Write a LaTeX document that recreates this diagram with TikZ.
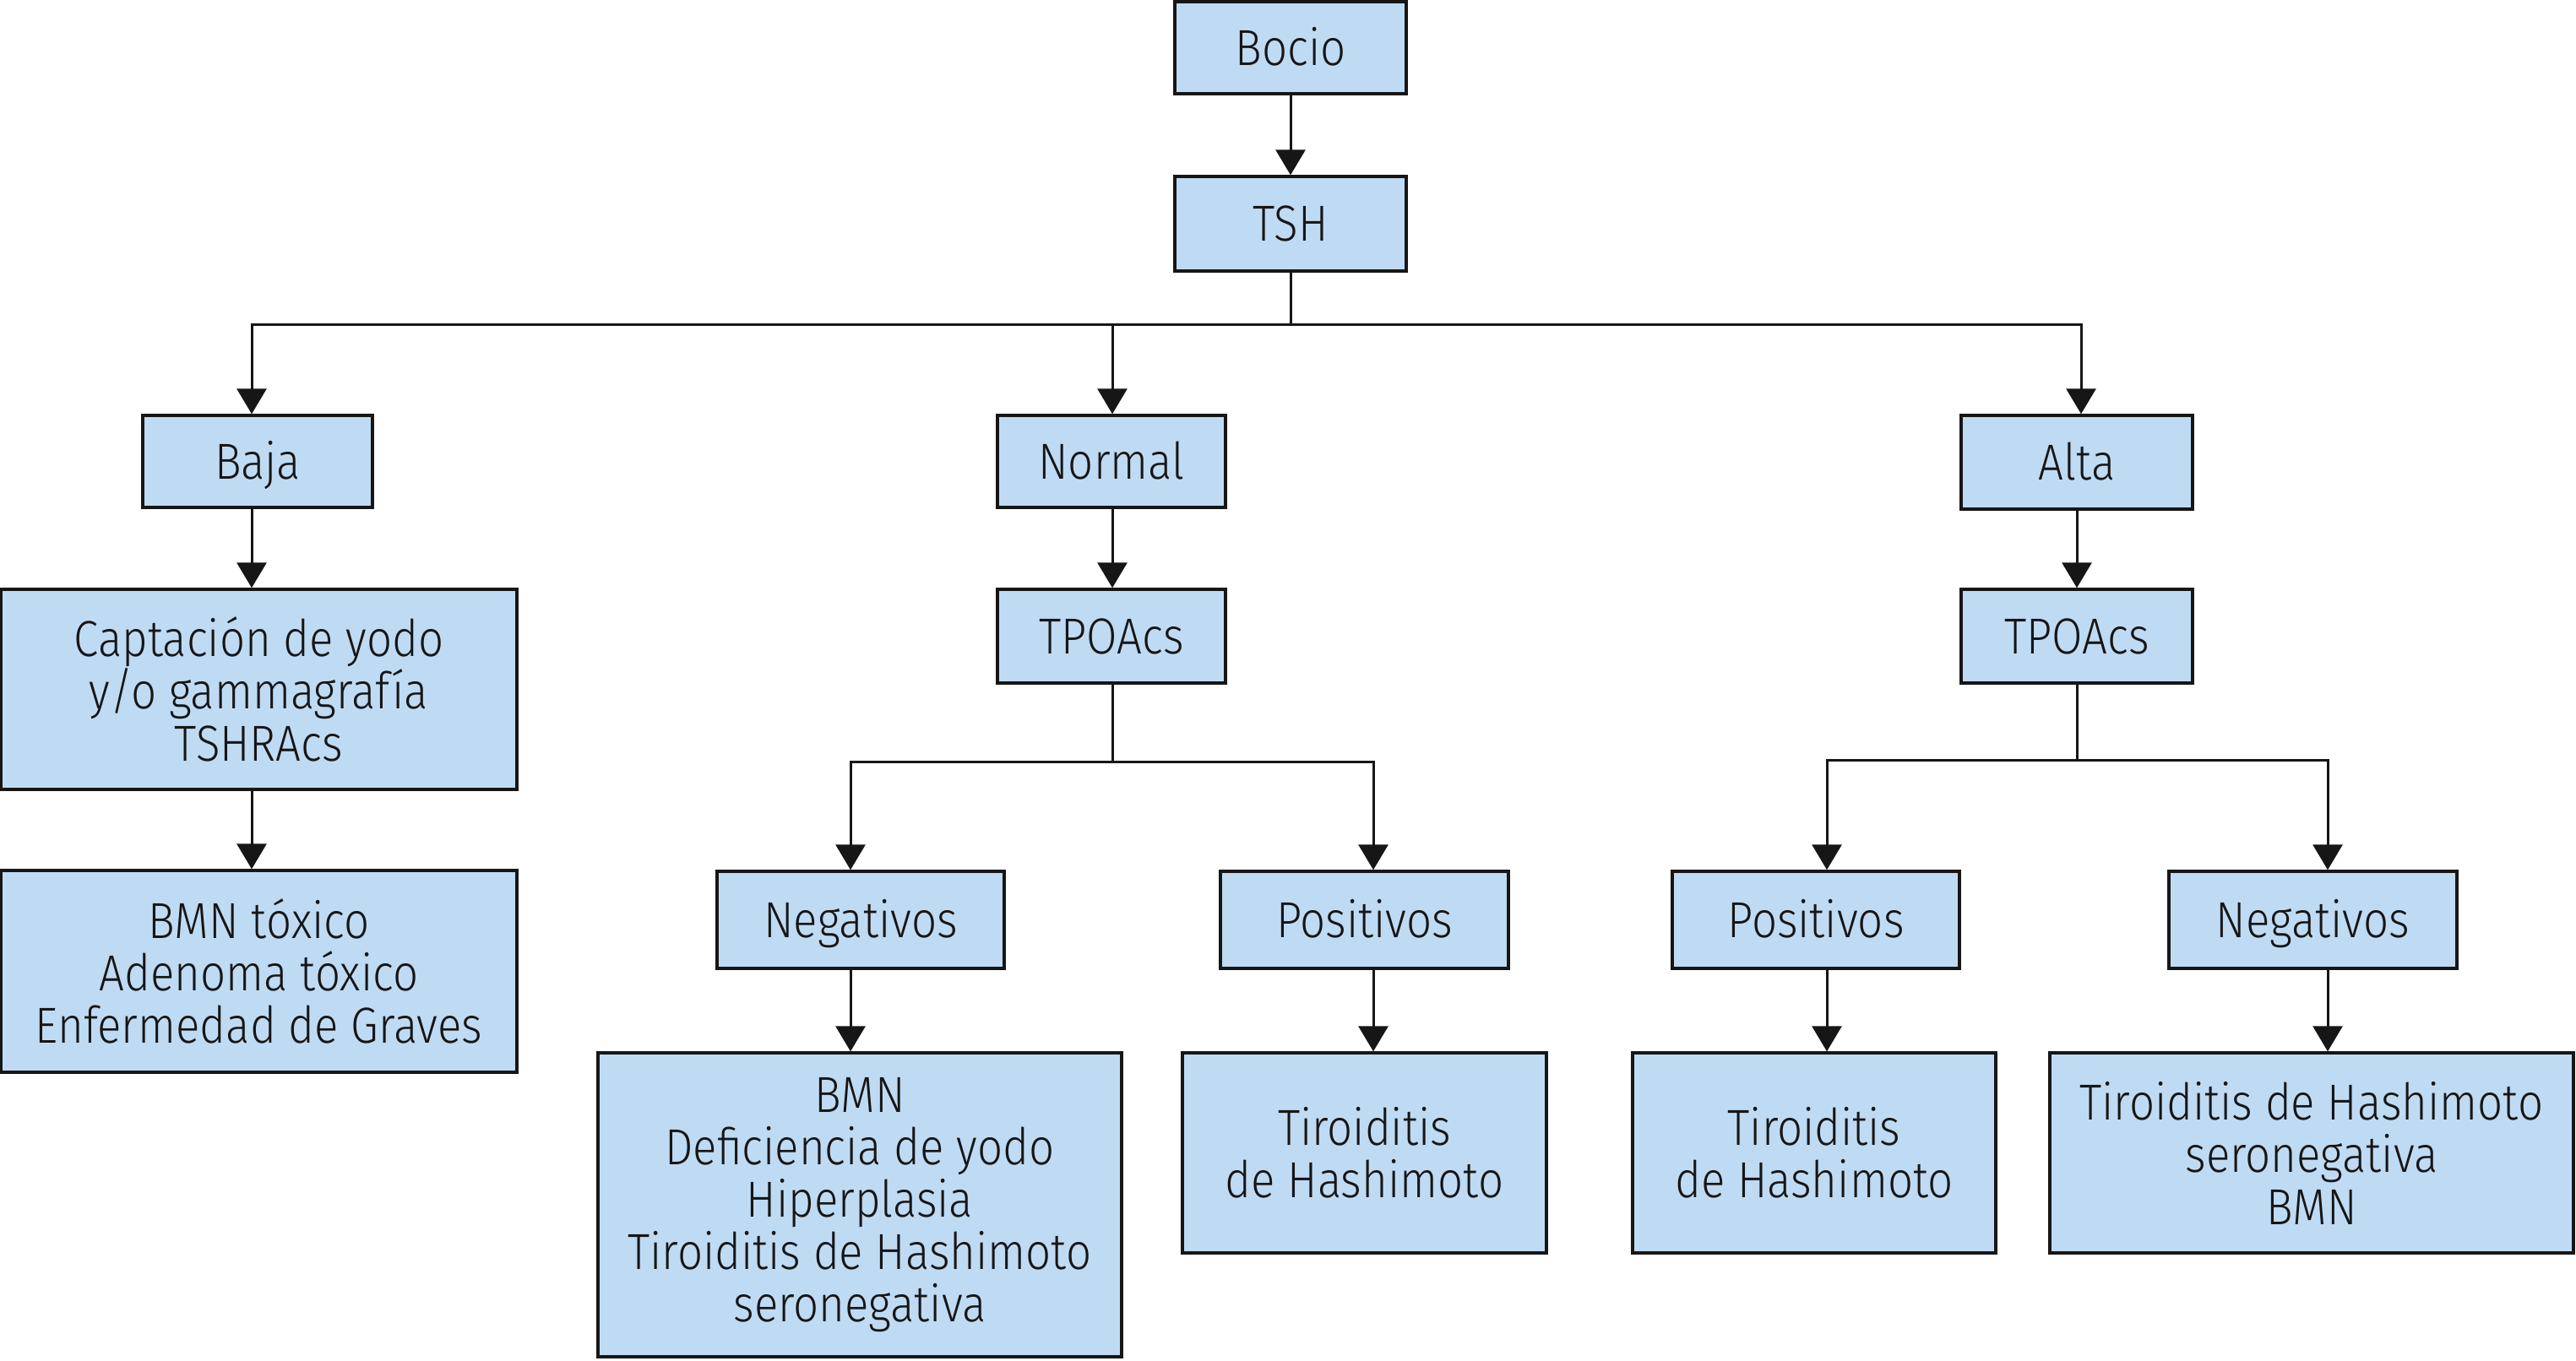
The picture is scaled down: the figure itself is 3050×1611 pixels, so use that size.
\documentclass[tikz,border=0pt]{standalone}
\usepackage{fontspec}
\setmainfont[FakeStretch=0.88, UprightFont={* Light}]{Fira Sans}
\usetikzlibrary{arrows.meta}
\definecolor{boxfill}{RGB}{191,219,244}
\definecolor{ink}{RGB}{22,22,22}
\newcommand{\bx}[7][]{\node[box, #1, minimum width={(#5-#3)*0.25pt}, minimum height={(#6-#4)*0.25pt}] (#2) at ({(#3+#5)/2},{(#4+#6)/2}) {#7};}
\begin{document}
\begin{tikzpicture}[x=0.25pt,y=-0.25pt,
  box/.style={draw=ink, line width=0.85pt, fill=boxfill, inner sep=0pt, align=center,
    font=\fontsize{15}{15.5}\selectfont, text=ink},
  oneline/.style={text height=10.4pt, text depth=0pt},
  arr/.style={draw=ink, line width=0.75pt, -{Triangle[width=8.75pt,length=7.5pt]}},
  ln/.style={draw=ink, line width=0.75pt}]
\useasboundingbox (0,0) rectangle (3050,1611);
\fill[white] (0,0) rectangle (3050,1611);

\bx[oneline]{bocio}{1391}{2}{1665}{111}{Bocio}
\bx[oneline]{tsh}{1391}{209}{1665}{321}{TSH}
\bx[oneline]{baja}{169}{492}{441}{601}{Baja}
\bx[oneline]{normal}{1181}{492}{1451}{601}{Normal}
\bx[oneline]{alta}{2322}{492}{2596}{603}{Alta}
\bx{capt}{1}{698}{612}{935}{Captación de yodo\\y/o gammagrafía\\TSHRAcs}
\bx{tox}{1}{1031}{612}{1270}{BMN tóxico\\Adenoma tóxico\\Enfermedad de Graves}
\bx[oneline]{tpoN}{1181}{698}{1451}{809}{TPOAcs}
\bx[oneline]{tpoA}{2322}{698}{2596}{809}{TPOAcs}
\bx[oneline]{negN}{849}{1032}{1189}{1147}{Negativos}
\bx[oneline]{posN}{1445}{1032}{1786}{1147}{Positivos}
\bx[oneline]{posA}{1980}{1032}{2320}{1147}{Positivos}
\bx[oneline]{negA}{2568}{1032}{2909}{1147}{Negativos}
\bx{resNN}{708}{1247}{1328}{1607}{BMN\\Deficiencia de yodo\\Hiperplasia\\Tiroiditis de Hashimoto\\seronegativa}
\bx{resNP}{1400}{1247}{1831}{1484}{Tiroiditis\\de Hashimoto}
\bx{resAP}{1933}{1247}{2363}{1484}{Tiroiditis\\de Hashimoto}
\bx{resAN}{2427}{1247}{3047}{1484}{Tiroiditis de Hashimoto\\seronegativa\\BMN}

% junction points
\coordinate (jL) at (298,384);
\coordinate (jM) at (1317,384);
\coordinate (jR) at (2464,384);
\coordinate (cA) at (2459,384);
\coordinate (kNN) at (1007,902);
\coordinate (kNP) at (1626,902);
\coordinate (kAP) at (2163,900);
\coordinate (kAN) at (2756,900);

\draw[arr] (bocio) -- (tsh);
\draw[arr] (tsh.south) |- (jL) -- (jL |- baja.north);
\draw[arr] (tsh.south) |- (jR) -- (jR |- alta.north);
\draw[arr] (jM) -- (jM |- normal.north);

\draw[arr] (baja.south -| jL) -- (capt.north -| jL);
\draw[arr] (capt.south -| jL) -- (tox.north -| jL);

\draw[arr] (normal.south -| jM) -- (tpoN.north -| jM);
\draw[arr] (alta.south -| cA) -- (tpoA.north -| cA);

\draw[arr] (tpoN.south -| jM) |- (kNN) -- (kNN |- negN.north);
\draw[arr] (tpoN.south -| jM) |- (kNP) -- (kNP |- posN.north);
\draw[arr] (tpoA.south -| cA) |- (kAP) -- (kAP |- posA.north);
\draw[arr] (tpoA.south -| cA) |- (kAN) -- (kAN |- negA.north);

\draw[arr] (negN.south -| kNN) -- (resNN.north -| kNN);
\draw[arr] (posN.south -| kNP) -- (resNP.north -| kNP);
\draw[arr] (posA.south -| kAP) -- (resAP.north -| kAP);
\draw[arr] (negA.south -| kAN) -- (resAN.north -| kAN);
\end{tikzpicture}
\end{document}
